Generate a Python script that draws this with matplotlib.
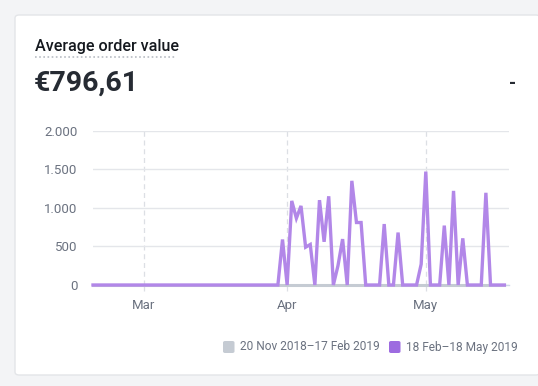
import numpy as np
import matplotlib
matplotlib.use("Agg")
import matplotlib.pyplot as plt
import matplotlib.dates as mdates
from matplotlib.patches import FancyBboxPatch
from matplotlib.lines import Line2D
import datetime as dt

plt.rcParams['font.family'] = ['Roboto', 'DejaVu Sans']

# data: daily average order value, 18 Feb - 18 May 2019
start = dt.date(2019, 2, 18)
current_values = [
    0, 0, 0, 0, 0, 0, 0, 0, 0, 0,            # Feb 18-27
    0, 0, 0, 0, 0, 0, 0, 0, 0, 0,            # Feb 28-Mar 9
    0, 0, 0, 0, 0, 0, 0, 0, 0, 0,            # Mar 10-19
    0, 0, 0, 0, 0, 0, 0, 0, 0, 0,            # Mar 20-29
    0, 590, 0, 1090, 865, 1025, 490, 525, 0, 1100,   # Mar 30-Apr 8
    560, 1150, 0, 250, 595, 0, 1350, 810, 810, 0,    # Apr 9-18
    0, 0, 0, 790, 0, 0, 680, 0, 0, 0,        # Apr 19-28
    0, 270, 1470, 0, 0, 0, 770, 0, 1220, 0,  # Apr 29-May 8
    605, 0, 0, 0, 0, 1195, 0, 0, 0, 0,       # May 9-18
]
previous_values = [
    0, 0, 0, 0, 0, 0, 0, 0, 0, 0,
    0, 0, 0, 0, 0, 0, 0, 0, 0, 0,
    0, 0, 0, 0, 0, 0, 0, 0, 0, 0,
    0, 0, 0, 0, 0, 0, 0, 0, 0, 0,
    0, 0, 0, 0, 0, 0, 0, 0, 0, 0,
    0, 0, 0, 0, 0, 0, 0, 0, 0, 0,
    0, 0, 0, 0, 0, 0, 0, 0, 0, 0,
    0, 0, 0, 0, 0, 0, 0, 0, 0, 0,
    0, 0, 0, 0, 0, 0, 0, 0, 0, 0,
]
dates = [start + dt.timedelta(days=i) for i in range(len(current_values))]
y_ticks = [0, 500, 1000, 1500, 2000]
y_labels = ['0', '500', '1.000', '1.500', '2.000']
legend_labels = ['20 Nov 2018\u201317 Feb 2019', '18 Feb\u201318 May 2019']

W, H = 538, 386
fig = plt.figure(figsize=(W / 100, H / 100), dpi=100)
fig.patch.set_facecolor('#f3f4f6')

def fx(px):
    return px / W

def fy(py):
    return 1 - py / H

# card
card = FancyBboxPatch((fx(15), fy(375)), fx(540) - fx(15), fy(15) - fy(375),
                      boxstyle="round,pad=0,rounding_size=0.008",
                      transform=fig.transFigure, facecolor='white',
                      edgecolor='#e3e5e8', linewidth=1.0, zorder=-5)
fig.patches.append(card)

# header
fig.text(fx(35), fy(46), 'Average order value', fontsize=11.6, fontweight='medium',
         color='#15191f', va='center', ha='left')
fig.add_artist(Line2D([fx(35), fx(175)], [fy(57), fy(57)], transform=fig.transFigure,
                      color='#b8bcc4', linewidth=1.2, linestyle=(0, (1, 1.5))))
fig.text(fx(34), fy(83), '\u20ac796,61', fontsize=20.5, fontweight='bold',
         color='#262b33', va='center', ha='left')
fig.text(fx(513), fy(84), '-', fontsize=13, fontweight='bold',
         color='#262b33', va='center', ha='center')

# chart
ax = fig.add_axes([fx(93), fy(285), fx(509) - fx(93), fy(130.7) - fy(285)], zorder=2)
ax.set_facecolor('none')
ax.plot(dates, previous_values, color='#c5cbd3', linewidth=2.2, clip_on=False, zorder=3)
ax.plot(dates, current_values, color='#b287e8', linewidth=2.4, clip_on=False,
        solid_joinstyle='miter', zorder=4)
ax.set_xlim(dates[0], dates[-1] + dt.timedelta(days=1))
ax.set_ylim(0, 2000)
ax.set_yticks(y_ticks)
ax.set_yticklabels(y_labels)
ax.yaxis.grid(True, color='#e4e6ea', linewidth=1.0)
ax.xaxis.set_major_locator(mdates.MonthLocator())
ax.xaxis.set_major_formatter(mdates.DateFormatter('%b'))
ax.xaxis.grid(True, color='#dcdfe4', linewidth=0.9, linestyle=(0, (4, 3)))
ax.set_axisbelow(True)
for s in ['top', 'right', 'left']:
    ax.spines[s].set_visible(False)
ax.spines['bottom'].set_color('#cdd6e6')
ax.spines['bottom'].set_linewidth(1.0)
ax.tick_params(axis='y', length=0, pad=11, labelsize=9.5, labelcolor='#6b7280')
ax.tick_params(axis='x', length=4, width=0.9, color='#dcdfe4', pad=6,
               labelsize=9.5, labelcolor='#6b7280')

# legend
for xsq, color, xtxt, label in [(223, '#c5cbd3', 240, legend_labels[0]),
                                (389, '#9d6be0', 406, legend_labels[1])]:
    fig.patches.append(FancyBboxPatch((fx(xsq), fy(353)), fx(11.5), fy(341) - fy(353),
                                      boxstyle="round,pad=0,rounding_size=0.004",
                                      transform=fig.transFigure, facecolor=color,
                                      edgecolor='none'))
    fig.text(fx(xtxt), fy(347), label, fontsize=8.6, color='#6b7280',
             va='center', ha='left')

fig.savefig('out.png', dpi=100, facecolor=fig.get_facecolor())
